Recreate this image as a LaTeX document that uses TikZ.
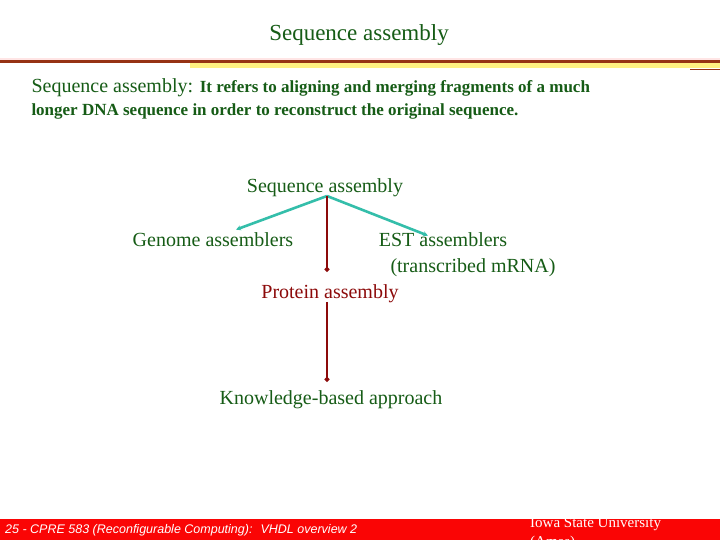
\documentclass[tikz,border=0pt]{standalone}
\usepackage{fontspec}
\setmainfont{Liberation Serif}
\setsansfont{Liberation Sans}
\usetikzlibrary{arrows.meta}
\definecolor{textgreen}{RGB}{22,92,22}
\definecolor{linkteal}{RGB}{52,190,170}
\definecolor{darkred}{RGB}{140,10,10}
\definecolor{barred}{RGB}{250,5,5}
\definecolor{rulebrown}{RGB}{150,50,20}
\definecolor{ruleyellow}{RGB}{255,240,130}
\begin{document}
\begin{tikzpicture}[
    x=1pt, y=-1pt,
    txt/.style={text=textgreen, inner sep=3.3pt, anchor=base},
    big/.style={txt, font=\fontsize{20}{24}\selectfont},
    branch/.style={draw=linkteal, line width=2.6pt, -{Stealth[length=5pt,width=5pt]}},
    chain/.style={draw=darkred, line width=2pt, -{Circle[length=4.5pt]}}
]
\clip (0,0) rectangle (720,540);
\useasboundingbox (0,0) rectangle (720,540);
\fill[white] (0,0) rectangle (720,540);

% Header rule
\fill[ruleyellow] (190,63) rectangle (720,68);
\fill[rulebrown] (0,60.5) rectangle (720,63.5);
\fill[red!10] (0,58) rectangle (720,60.5);
\draw[rulebrown, line width=1pt] (690,69.5) -- (720,69.5);

% Title and definition
\node[txt, font=\fontsize{23}{28}\selectfont] (title) at (359,41) {Sequence assembly};
\node[txt, anchor=base west] (defa) at (28,93)
  {\fontsize{20}{24}\selectfont Sequence assembly: \fontsize{17}{20}\selectfont\bfseries It refers to aligning and merging fragments of a much};
\node[txt, anchor=base west, font=\fontsize{17}{20}\selectfont\bfseries] (defb) at (28,116)
  {longer DNA sequence in order to reconstruct the original sequence.};

% Tree nodes
\node[big] (seqa) at (325,193) {Sequence assembly};
\node[big] (genome) at (213,246) {Genome assemblers};
\node[big] (est) at (443,246) {EST assemblers};
\node[big] (mrna) at (473,272) {(transcribed mRNA)};
\node[big, text=darkred] (prot) at (330,298) {Protein assembly};
\node[big] (know) at (331,404) {Knowledge-based approach};
\coordinate (split) at (327,196);

% Connectors
\draw[branch] (split) -- ([xshift=23pt,yshift=-1pt]genome.north);
\draw[branch] (split) -- ([xshift=-15pt,yshift=-7pt]est.north);
\draw[chain] (split) -- ([yshift=9pt]split |- prot.north);
\draw[chain] ([yshift=4pt]split |- prot.south) -- ([yshift=5pt]split |- know.north);

% Footer
\fill[barred] (0,519) rectangle (720,540);
\node[anchor=base west, text=white, inner sep=0pt, font=\sffamily\itshape\fontsize{12.5}{14}\selectfont] (foot) at (5,533)
  {25 - CPRE 583 (Reconfigurable Computing): \ VHDL overview 2};
\node[anchor=base west, text=white, inner sep=0pt, font=\fontsize{15}{18}\selectfont] (iowa) at (530,527)
  {Iowa State University};
\node[anchor=base west, text=white, inner sep=0pt, font=\fontsize{15}{18}\selectfont] (ames) at (530,546)
  {(Ames)};
\end{tikzpicture}
\end{document}
